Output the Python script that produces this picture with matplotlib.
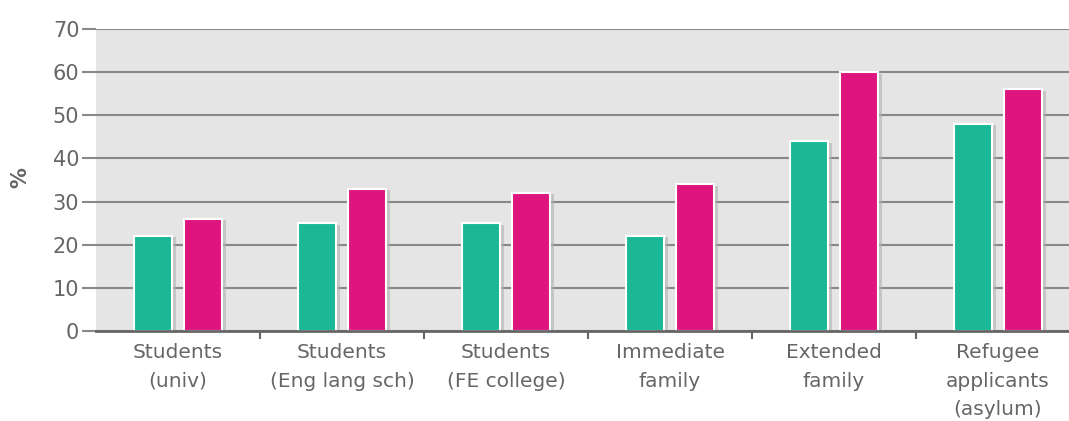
import numpy as np
import matplotlib
matplotlib.use("Agg")
import matplotlib.pyplot as plt
import matplotlib.patheffects as pe

# data
categories = ['Students\n(univ)', 'Students\n(Eng lang sch)', 'Students\n(FE college)',
              'Immediate\nfamily', 'Extended\nfamily', 'Refugee\napplicants\n(asylum)']
series_green = [22, 25, 25, 22, 44, 48]
series_pink = [26, 33, 32, 34, 60, 56]
yticks = [0, 10, 20, 30, 40, 50, 60, 70]

green = '#1bb896'
pink = '#df157f'
txt = '#666666'

plt.rcParams['font.family'] = ['DejaVu Sans']

fig = plt.figure(figsize=(10.69, 4.21), dpi=100)
ax = fig.add_axes([96/1069, 90/421, (1069-96)/1069, (331-29)/421])
ax.set_facecolor('#e5e5e5')

x = np.arange(len(categories))
w = 0.235
shadow = [pe.SimplePatchShadow(offset=(2.5, -1), shadow_rgbFace='#b0b0b0', alpha=0.6), pe.Normal()]
b1 = ax.bar(x - 0.153, series_green, w, color=green, edgecolor='white', linewidth=1.5, zorder=3)
b2 = ax.bar(x + 0.153, series_pink, w, color=pink, edgecolor='white', linewidth=1.5, zorder=3)
for b in list(b1) + list(b2):
    b.set_path_effects(shadow)

ax.set_ylim(0, 70)
ax.set_xlim(-0.5, -0.5 + (1069-96)/164)
ax.set_yticks(yticks)
ax.yaxis.grid(True, color='#888888', linewidth=1.5, zorder=1)
ax.set_axisbelow(True)

# gridlines reach out over the tick area
ax.tick_params(axis='y', length=10, width=1.5, color='#888888', labelcolor=txt, labelsize=15, pad=2)
ax.set_xticks(x)
ax.set_xticklabels(categories, linespacing=1.65)
ax.tick_params(axis='x', length=0, labelcolor=txt, labelsize=14.5, pad=8.5)
ax.set_xticks(np.arange(0.5, len(categories) - 0.5, 1), minor=True)
ax.tick_params(axis='x', which='minor', length=6, width=1.5, color='#666666')

for s in ['top', 'right', 'left']:
    ax.spines[s].set_visible(False)
ax.spines['bottom'].set_color('#666666')
ax.spines['bottom'].set_linewidth(2)
ax.spines['bottom'].set_zorder(4)

fig.text(20/1069, 1 - 178/421, '%', rotation=90, ha='center', va='center',
         fontsize=15, color=txt, fontweight='bold')

fig.savefig('out.png', dpi=100)
